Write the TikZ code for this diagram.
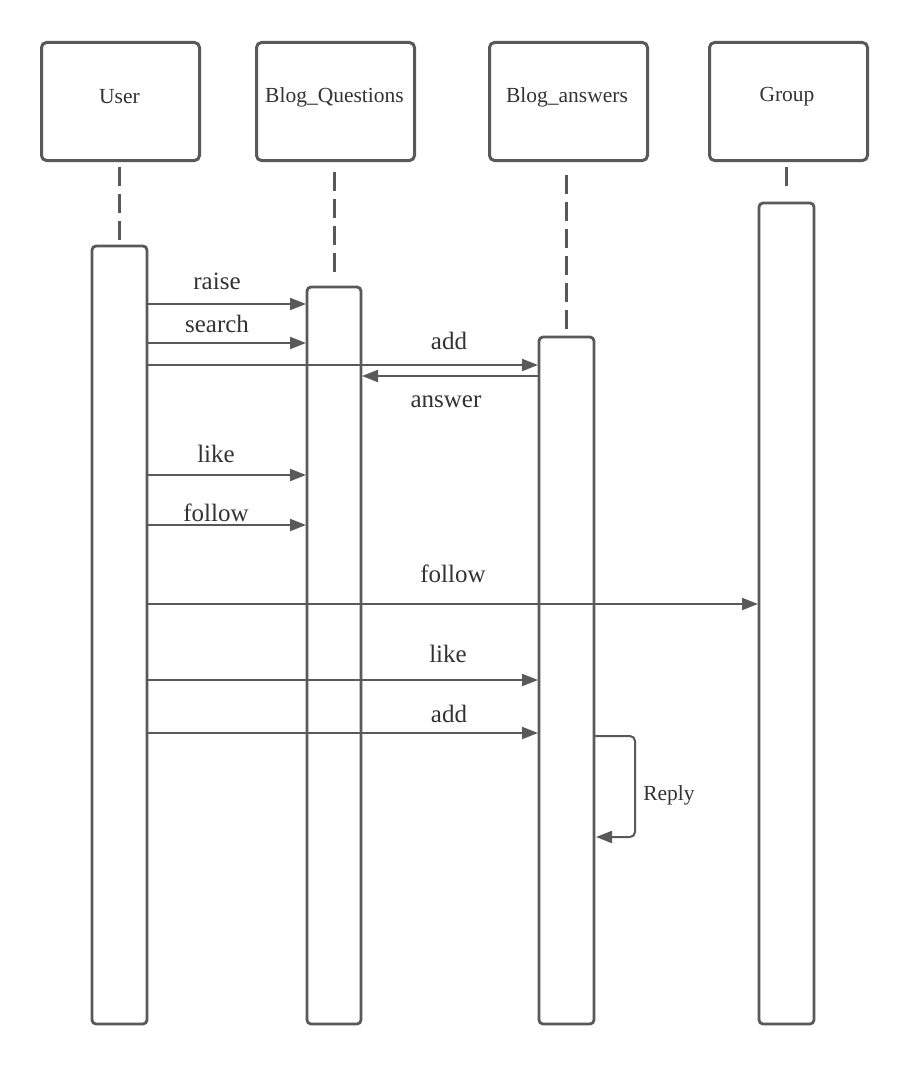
\documentclass[tikz,border=0pt]{standalone}
\usepackage{fontspec}
\setmainfont{Liberation Serif}
\usetikzlibrary{arrows.meta}
\definecolor{ln}{HTML}{595959}
\definecolor{tx}{HTML}{333333}
\begin{document}
\begin{tikzpicture}[x=1pt,y=-1pt,
  head/.style={draw=ln,line width=3pt,rounded corners=5pt,minimum width=158pt,minimum height=118pt,inner sep=0pt,anchor=north west},
  htxt/.style={font=\fontsize{21.5}{24}\selectfont,text=tx,inner sep=0pt},
  bar/.style={draw=ln,line width=2.8pt,rounded corners=4pt},
  life/.style={draw=ln,line width=2.8pt,dash pattern=on 19pt off 8pt},
  msg/.style={draw=ln,line width=2pt,-{Triangle[length=16pt,width=12pt]}},
  lbl/.style={font=\fontsize{25}{28}\selectfont,text=tx,inner sep=0pt}]
\useasboundingbox (0,0) rectangle (907,1065);
\fill[white] (0,0) rectangle (907,1065);
% headers
\node[head] (hU) at (40,41) {};
\node[htxt] (tU) at (119.5,97) {User};
\node[head] (hQ) at (255,41) {};
\node[htxt] (tQ) at (334.5,97) {Blog\_Questions};
\node[head] (hA) at (488,41) {};
\node[htxt] (tA) at (567,97) {Blog\_answers};
\node[head] (hG) at (708,41) {};
\node[htxt] (tG) at (787,97) {Group};
% lifelines
\coordinate (lU1) at (119.5,167); \coordinate (lU2) at (119.5,240);
\coordinate (lQ1) at (334.5,172); \coordinate (lQ2) at (334.5,279);
\coordinate (lA1) at (566.5,175); \coordinate (lA2) at (566.5,331);
\coordinate (lG1) at (786.5,167); \coordinate (lG2) at (786.5,186);
\draw[life] (lU1) -- (lU2);
\draw[life] (lQ1) -- (lQ2);
\draw[life] (lA1) -- (lA2);
\draw[life] (lG1) -- (lG2);
% activation bars
\draw[bar] (92,246) rectangle (147,1024);
\draw[bar] (307,287) rectangle (361,1024);
\draw[bar] (539,337) rectangle (594,1024);
\draw[bar] (759,203) rectangle (814,1024);
% messages
\draw[msg] (148,304) -- (306,304);
\node[lbl] (m1) at (217,281) {raise};
\draw[msg] (148,343) -- (306,343);
\node[lbl] (m2) at (217,324) {search};
\draw[msg] (148,365) -- (538,365);
\node[lbl] (m3) at (449,341) {add};
\draw[msg] (538,376) -- (362,376);
\node[lbl] (m4) at (446,402) {answer};
\draw[msg] (148,475) -- (306,475);
\node[lbl] (m5) at (216,454) {like};
\draw[msg] (148,525) -- (306,525);
\node[lbl] (m6) at (216,513) {follow};
\draw[msg] (148,604) -- (758,604);
\node[lbl] (m7) at (453,574) {follow};
\draw[msg] (148,680) -- (538,680);
\node[lbl] (m8) at (448,654) {like};
\draw[msg] (148,733) -- (538,733);
\node[lbl] (m9) at (449,714) {add};
% self message
\draw[msg,rounded corners=5pt] (595,736) -- (635,736) -- (635,837) -- (596,837);
\node[htxt] (rp) at (669,795) {Reply};
\end{tikzpicture}
\end{document}
